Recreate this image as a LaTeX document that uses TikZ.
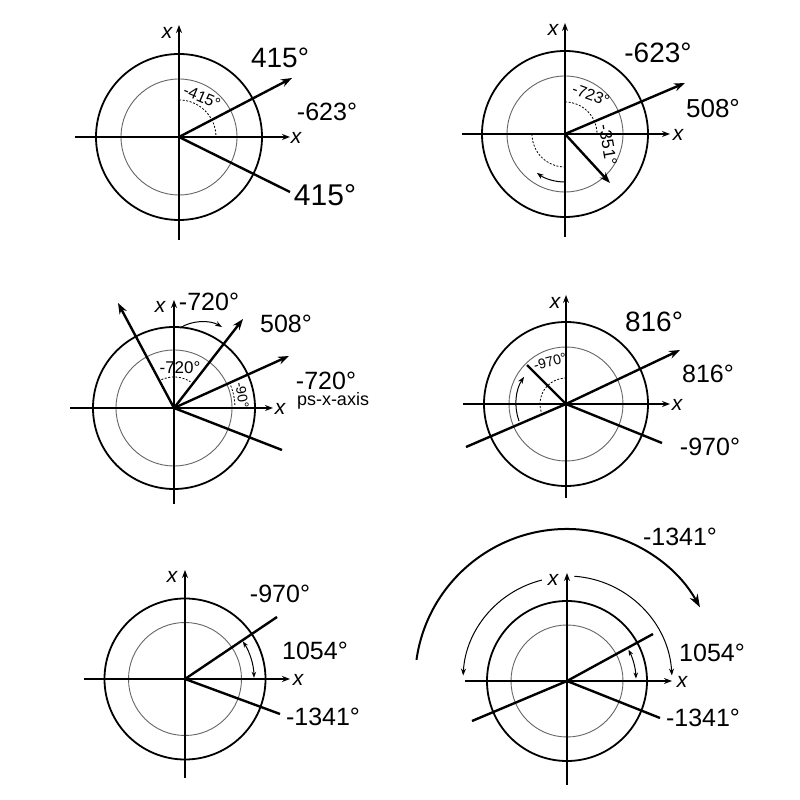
\documentclass[tikz,border=0pt]{standalone}
\usepackage{fontspec}
\setmainfont{Liberation Sans}
\usetikzlibrary{arrows.meta}
\tikzset{
  axis/.style={line width=1.6, -{Stealth[length=8,width=6]}},
  outer/.style={line width=1.8},
  inner/.style={line width=0.9, black!60},
  vec/.style={line width=2.4, -{Stealth[length=11,width=8]}},
  ray/.style={line width=2.4},
  dsh/.style={line width=0.8, dash pattern=on 2 off 1.6},
  thinarr/.style={line width=1.0, -{Stealth[length=7,width=5]}},
  dblarr/.style={line width=1.0, {Stealth[length=6,width=4.5]}-{Stealth[length=6,width=4.5]}},
  big/.style={font=\fontsize{25}{25}\selectfont, inner sep=0},
  bigger/.style={font=\fontsize{28}{28}\selectfont, inner sep=0},
  small/.style={font=\fontsize{16}{16}\selectfont, inner sep=0},
  xl/.style={font=\fontsize{21}{21}\selectfont\itshape, inner sep=0},
}
\begin{document}
\begin{tikzpicture}[x=1pt,y=1pt]
\useasboundingbox[fill=white] (0,0) rectangle (800,800);

% ---------- Panel 1 ----------
\begin{scope}[shift={(179,663)}]
\coordinate (o1) at (0,0);
\draw[outer] (o1) circle[radius=83];
\draw[inner] (o1) circle[radius=58];
\coordinate (v1b) at (0,-103); \coordinate (v1t) at (0,112);
\coordinate (h1l) at (-104,0); \coordinate (h1r) at (111,0);
\draw[axis] (v1b) -- (v1t);
\draw[axis] (h1l) -- (h1r);
\coordinate (p1a) at (113,59); \coordinate (p1b) at (111,-55);
\draw[vec] (o1) -- (p1a);
\draw[ray] (o1) -- (p1b);
\draw[dsh] (90:37) arc[start angle=90,end angle=0,radius=37];
\node[small, rotate=-23] (l1a) at (23,40) {-415°};
\node[xl] (x1t) at (-12,104) {x};
\node[xl] (x1r) at (117,-1) {x};
\node[bigger] (l1b) at (101,79) {415°};
\node[big] (l1c) at (148,25) {-623°};
\node[font=\fontsize{30}{30}\selectfont, inner sep=0] (l1d) at (146,-58) {415°};
\end{scope}

% ---------- Panel 2 ----------
\begin{scope}[shift={(565,666)}]
\coordinate (o2) at (0,0);
\draw[outer] (o2) circle[radius=83];
\draw[inner] (o2) circle[radius=58];
\coordinate (v2b) at (0,-103); \coordinate (v2t) at (0,111);
\coordinate (h2l) at (-103,0); \coordinate (h2r) at (105,0);
\draw[axis] (v2b) -- (v2t);
\draw[axis] (h2l) -- (h2r);
\coordinate (p2a) at (120,51); \coordinate (p2b) at (45,-49);
\draw[vec] (o2) -- (p2a);
\draw[vec] (o2) -- (p2b);
\draw[dsh] (90:32) arc[start angle=90,end angle=0,radius=32];
\draw[dsh] (180:33) arc[start angle=180,end angle=270,radius=33];
\draw[thinarr] (270:48) arc[start angle=270,end angle=234,radius=48];
\node[small, rotate=-20] (l2a) at (26,39) {-723°};
\node[font=\fontsize{17}{17}\selectfont, inner sep=0, rotate=-80] (l2b) at (43,-11) {-351°};
\node[xl] (x2t) at (-12,104) {x};
\node[xl] (x2r) at (113,-1) {x};
\node[bigger] (l2c) at (93,81) {-623°};
\node[font=\fontsize{26}{26}\selectfont, inner sep=0] (l2d) at (148,25) {508°};
\end{scope}

% ---------- Panel 3 ----------
\begin{scope}[shift={(174,392)}]
\coordinate (o3) at (0,0);
\draw[outer] (o3) circle[radius=81];
\draw[inner] (o3) circle[radius=58];
\coordinate (v3b) at (0,-96); \coordinate (v3t) at (0,108);
\coordinate (h3l) at (-104,0); \coordinate (h3r) at (99,0);
\draw[axis] (v3b) -- (v3t);
\draw[axis] (h3l) -- (h3r);
\coordinate (p3a) at (-56,105); \coordinate (p3b) at (69,89);
\coordinate (p3c) at (115,52); \coordinate (p3d) at (108,-42);
\draw[vec] (o3) -- (p3a);
\draw[vec] (o3) -- (p3b);
\draw[vec] (o3) -- (p3c);
\draw[ray] (o3) -- (p3d);
\coordinate (c3s) at (6,80); \coordinate (c3e) at (48,81);
\draw[thinarr] (c3s) .. controls (18,88) and (36,88) .. (c3e);
\draw[dsh] (114:31) arc[start angle=114,end angle=58,radius=31];
\draw[dsh] (25:61) arc[start angle=25,end angle=2,radius=61];
\node[font=\fontsize{17}{17}\selectfont, inner sep=0] (l3a) at (6,40) {-720°};
\node[font=\fontsize{14}{14}\selectfont, inner sep=0, rotate=-80] (l3b) at (68,13) {-90°};
\node[xl] (x3t) at (-14,101) {x};
\node[xl] (x3r) at (106,-1) {x};
\node[big] (l3c) at (35,106) {-720°};
\node[big] (l3d) at (112,84) {508°};
\node[big] (l3e) at (152,27) {-720°};
\node[font=\fontsize{18}{18}\selectfont, inner sep=0] (l3f) at (159,7) {ps-x-axis};
\end{scope}

% ---------- Panel 4 ----------
\begin{scope}[shift={(566,396)}]
\coordinate (o4) at (0,0);
\draw[outer] (o4) circle[radius=82];
\draw[inner] (o4) circle[radius=57];
\coordinate (v4b) at (0,-94); \coordinate (v4t) at (0,109);
\coordinate (h4l) at (-103,0); \coordinate (h4r) at (104,0);
\draw[axis] (v4b) -- (v4t);
\draw[axis] (h4l) -- (h4r);
\coordinate (p4a) at (-100,-43); \coordinate (p4b) at (114,54);
\coordinate (p4c) at (-39,39); \coordinate (p4d) at (96,-39);
\draw[ray] (p4a) -- (o4);
\draw[vec] (o4) -- (p4b);
\draw[ray] (o4) -- (p4c);
\draw[ray] (o4) -- (p4d);
\draw[dsh] (197:26) arc[start angle=197,end angle=92,radius=26];
\draw[thinarr] (200:50) arc[start angle=200,end angle=147,radius=50];
\node[font=\fontsize{14}{14}\selectfont, inner sep=0, rotate=15] (l4a) at (-16,42) {-970°};
\node[xl] (x4t) at (-11,101) {x};
\node[xl] (x4r) at (111,-1) {x};
\node[bigger] (l4b) at (88,82) {816°};
\node[big] (l4c) at (142,30) {816°};
\node[big] (l4d) at (144,-43) {-970°};
\end{scope}

% ---------- Panel 5 ----------
\begin{scope}[shift={(185,121)}]
\coordinate (o5) at (0,0);
\draw[outer] (o5) circle[radius=80.5];
\draw[inner] (o5) circle[radius=56.5];
\coordinate (v5b) at (0,-99); \coordinate (v5t) at (0,109);
\coordinate (h5l) at (-101,0); \coordinate (h5r) at (105,0);
\draw[axis] (v5b) -- (v5t);
\draw[axis] (h5l) -- (h5r);
\coordinate (p5a) at (92,62); \coordinate (p5b) at (95,-35);
\draw[ray] (o5) -- (p5a);
\draw[ray] (o5) -- (p5b);
\draw[dblarr] (33:69) arc[start angle=33,end angle=1,radius=69];
\node[xl] (x5t) at (-13,102) {x};
\node[xl] (x5r) at (113,-1) {x};
\node[big] (l5a) at (95,85) {-970°};
\node[big] (l5b) at (130,28) {1054°};
\node[big] (l5c) at (138,-38) {-1341°};
\end{scope}

% ---------- Panel 6 ----------
\begin{scope}[shift={(567,119)}]
\coordinate (o6) at (0,0);
\draw[outer] (o6) circle[radius=80];
\draw[inner] (o6) circle[radius=56];
\coordinate (v6b) at (0,-104); \coordinate (v6t) at (0,108);
\coordinate (h6l) at (-102,0); \coordinate (h6r) at (105,0);
\draw[axis] (v6b) -- (v6t);
\draw[axis] (h6l) -- (h6r);
\coordinate (p6a) at (-95,-40); \coordinate (p6b) at (86,47);
\coordinate (p6c) at (93,-37);
\draw[ray] (p6a) -- (o6);
\draw[ray] (o6) -- (p6b);
\draw[ray] (o6) -- (p6c);
\draw[dblarr] (27:69) arc[start angle=27,end angle=2,radius=69];
\draw[thinarr] (104:104) arc[start angle=104,end angle=177,radius=104];
\draw[thinarr] (86:105) arc[start angle=86,end angle=3,radius=105];
\draw[line width=2, -{Stealth[length=13,width=9]}] (172:152) arc[start angle=172,end angle=29,radius=152];
\node[xl] (x6t) at (-14,101) {x};
\node[xl] (x6r) at (115,-1) {x};
\node[big] (l6a) at (113,144) {-1341°};
\node[big] (l6b) at (145,28) {1054°};
\node[big] (l6c) at (136,-37) {-1341°};
\end{scope}
\end{tikzpicture}
\end{document}
